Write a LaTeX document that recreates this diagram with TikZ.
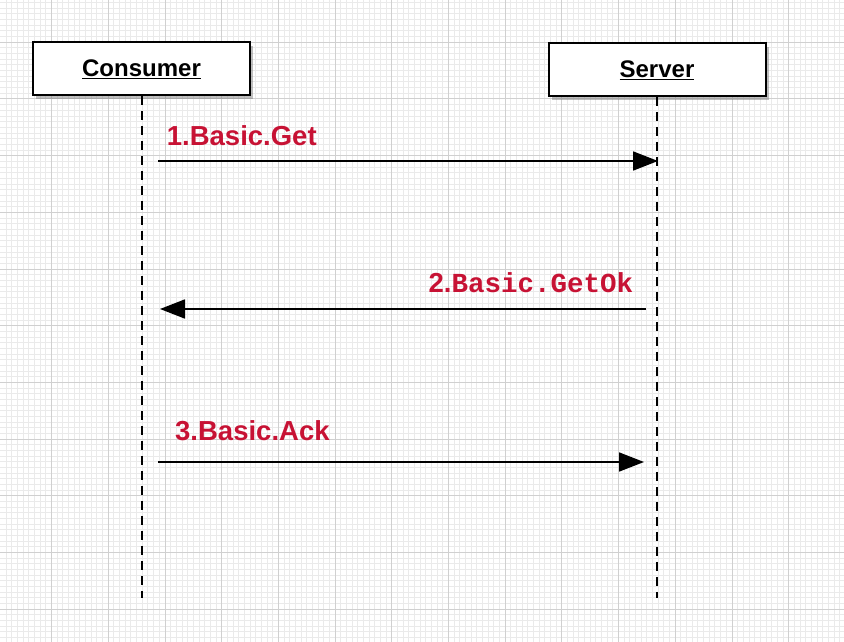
\documentclass[tikz,border=0pt]{standalone}
\usepackage{fontspec}
\setmainfont{Liberation Sans}
\newfontfamily\codefont{Liberation Mono}
\usetikzlibrary{arrows.meta,positioning,shadows}
\definecolor{msgred}{RGB}{199,18,52}
\definecolor{gridminor}{RGB}{234,234,234}
\definecolor{gridmajor}{RGB}{208,208,208}

\begin{document}
\begin{tikzpicture}[x=1pt, y=-1pt,
      actor/.style={draw, line width=2pt, fill=white, minimum width=217pt,
        minimum height=53pt, inner sep=0pt, text depth=0pt,
        font=\fontsize{24}{28}\selectfont\bfseries,
        drop shadow={shadow xshift=3pt, shadow yshift=-4pt, opacity=0.5}},
      lifeline/.style={line width=1.9pt, dash pattern=on 9pt off 6pt},
      msg/.style={-{Triangle[length=25pt,width=19pt]}, line width=1.8pt},
      msglabel/.style={inner sep=0pt, text=msgred,
        font=\fontsize{27.5}{30}\selectfont\bfseries}]
    \useasboundingbox (0,0) rectangle (844,642);
    \begin{scope}
      \clip (0,0) rectangle (844,642);
      \fill[white] (0,0) rectangle (844,642);
      \foreach \i in {0,...,149}
        \draw[gridminor, line width=1pt] ({6.24+5.67*\i},0) -- ++(0,642);
      \foreach \j in {0,...,113}
        \draw[gridminor, line width=1pt] (0,{2.6+5.67*\j}) -- ++(844,0);
      \foreach \i in {0,...,15}
        \draw[gridmajor, line width=1pt] ({-5.1+56.7*\i},0) -- ++(0,642);
      \foreach \j in {0,...,12}
        \draw[gridmajor, line width=1pt] (0,{-14.4+56.7*\j}) -- ++(844,0);
    \end{scope}

    \node[actor] (consumer) at (141.5,68.5) {\underline{Consumer}};
    \node[actor] (server) at (657,69.3) {\underline{Server}};
    \coordinate (consumer-end) at (142.3,598);
    \coordinate (server-end) at (656.7,598);
    \draw[lifeline] (consumer.south -| consumer-end) -- (consumer-end);
    \draw[lifeline] (server.south -| server-end) -- (server-end);

    \coordinate (get-from) at (158,161);
    \coordinate (get-to) at (658,161);
    \coordinate (getok-from) at (646,309);
    \coordinate (getok-to) at (160,309);
    \coordinate (ack-from) at (158,462);
    \coordinate (ack-to) at (644,462);
    \draw[msg] (get-from) -- (get-to);
    \draw[msg] (getok-from) -- (getok-to);
    \draw[msg] (ack-from) -- (ack-to);

    \node[msglabel, anchor=base west] (get-label) at (166.7,145) {1.Basic.Get};
    \node[msglabel, anchor=base east] (getok-label) at (633.3,292)
      {2.{\codefont Basic.GetOk}};
    \node[msglabel, anchor=base west] (ack-label) at (175,440.7) {3.Basic.Ack};
  \end{tikzpicture}
\end{document}
